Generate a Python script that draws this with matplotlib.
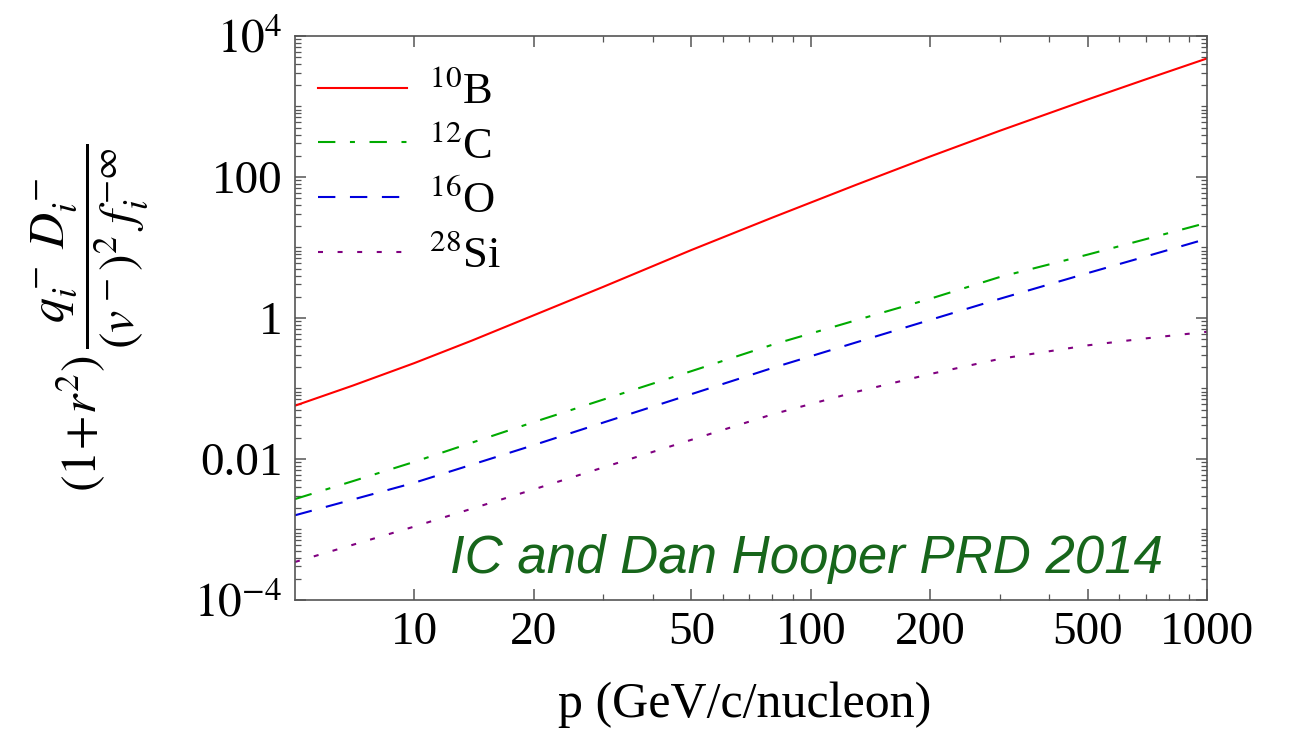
import matplotlib

matplotlib.use("Agg")
import matplotlib.pyplot as plt
import numpy as np
from matplotlib.ticker import FixedFormatter, FixedLocator, LogLocator, NullFormatter

# momentum per nucleon (GeV/c)
momentum = [5, 7, 10, 14, 20, 30, 50, 80, 130, 200, 300, 500, 700, 1000]

# (1+r^2) q D / ((v)^2 f) for each secondary species
boron_10 = [0.057, 0.110, 0.229, 0.480, 1.09, 2.77, 9.2, 26.5, 77.1, 194.7, 452, 1256, 2421, 4800]
carbon_12 = [0.0027, 0.00485, 0.0091, 0.0171, 0.0333, 0.0697, 0.176, 0.417, 0.926, 1.87, 3.81, 7.92, 13.1, 22.4]
oxygen_16 = [0.00159, 0.00266, 0.0046, 0.00834, 0.0157, 0.0329, 0.0831, 0.195, 0.449, 0.937, 1.87, 4.33, 7.44, 13.3]
silicon_28 = [3.46e-4, 6.07e-4, 1.10e-3, 1.98e-3, 3.70e-3, 7.6e-3, 0.0187, 0.0429, 0.0893, 0.160, 0.263, 0.409, 0.513, 0.637]

series_labels = [r"$^{10}$B", r"$^{12}$C", r"$^{16}$O", r"$^{28}$Si"]

x_major = [10, 20, 50, 100, 200, 500, 1000]
x_major_labels = ["10", "20", "50", "100", "200", "500", "1000"]
x_minor = [30, 40, 60, 70, 80, 90, 300, 400, 600, 700, 800, 900]

y_major = [1e-4, 1e-2, 1, 1e2, 1e4]
y_major_labels = [r"$10^{-4}$", "0.01", "1", "100", r"$10^{4}$"]

plt.rcParams["font.family"] = ["Liberation Serif", "DejaVu Serif"]
plt.rcParams["mathtext.fontset"] = "stix"
plt.rcParams["lines.scale_dashes"] = False

frame_color = "#555555"

fig = plt.figure(figsize=(12.91, 7.35), dpi=100)
ax = fig.add_axes([0.2285, 0.1837, 0.7065, 0.7674])

styles = [
    dict(color="#ff0000", linestyle="-"),
    dict(color="#00aa00", dashes=(12.5, 10.5, 3.6, 10.5)),
    dict(color="#0000dd", dashes=(12.5, 10.5)),
    dict(color="#800080", dashes=(3.6, 10.5)),
]
for values, label, style in zip([boron_10, carbon_12, oxygen_16, silicon_28], series_labels, styles):
    ax.plot(momentum, values, linewidth=1.5, label=label, **style)

ax.set_xscale("log")
ax.set_yscale("log")
ax.set_xlim(5, 1000)
ax.set_ylim(1e-4, 1e4)

ax.xaxis.set_major_locator(FixedLocator(x_major))
ax.xaxis.set_major_formatter(FixedFormatter(x_major_labels))
ax.xaxis.set_minor_locator(FixedLocator(x_minor))
ax.xaxis.set_minor_formatter(NullFormatter())
ax.yaxis.set_major_locator(FixedLocator(y_major))
ax.yaxis.set_major_formatter(FixedFormatter(y_major_labels))
ax.yaxis.set_minor_locator(LogLocator(base=10, subs=np.arange(1, 10), numticks=100))
ax.yaxis.set_minor_formatter(NullFormatter())

for spine in ax.spines.values():
    spine.set_color(frame_color)
    spine.set_linewidth(1.2)
ax.tick_params(which="both", direction="in", top=True, right=True, color=frame_color, labelsize=34)
ax.tick_params(which="major", length=8, width=1.1)
ax.tick_params(which="minor", length=4, width=0.9)
ax.tick_params(axis="x", pad=8)
ax.tick_params(axis="y", pad=9)

ax.set_xlabel("p (GeV/c/nucleon)", fontsize=36)
ax.xaxis.label.set_va("baseline")
ax.xaxis.set_label_coords(0.4935, -0.2074)

ax.set_ylabel(r"$(1\!+\!r^2)\,\dfrac{q_i^-\;D_i^-}{(v^-)^2\;f_i^{-\infty}}$", fontsize=36)
ax.yaxis.label.set_va("center")
ax.yaxis.set_label_coords(-0.2248, 0.5)

ax.legend(
    loc="upper left",
    bbox_to_anchor=(0.025, 0.937),
    frameon=False,
    fontsize=32,
    handlelength=2.0,
    handletextpad=0.5,
    labelspacing=0.3,
    borderpad=0,
    borderaxespad=0,
)

ax.text(0.17, 0.048, "IC and Dan Hooper PRD 2014", transform=ax.transAxes,
        family=["Liberation Sans", "DejaVu Sans"], style="italic", fontsize=38,
        color="#17661b", ha="left", va="baseline")

fig.savefig("out.png", dpi=100)
